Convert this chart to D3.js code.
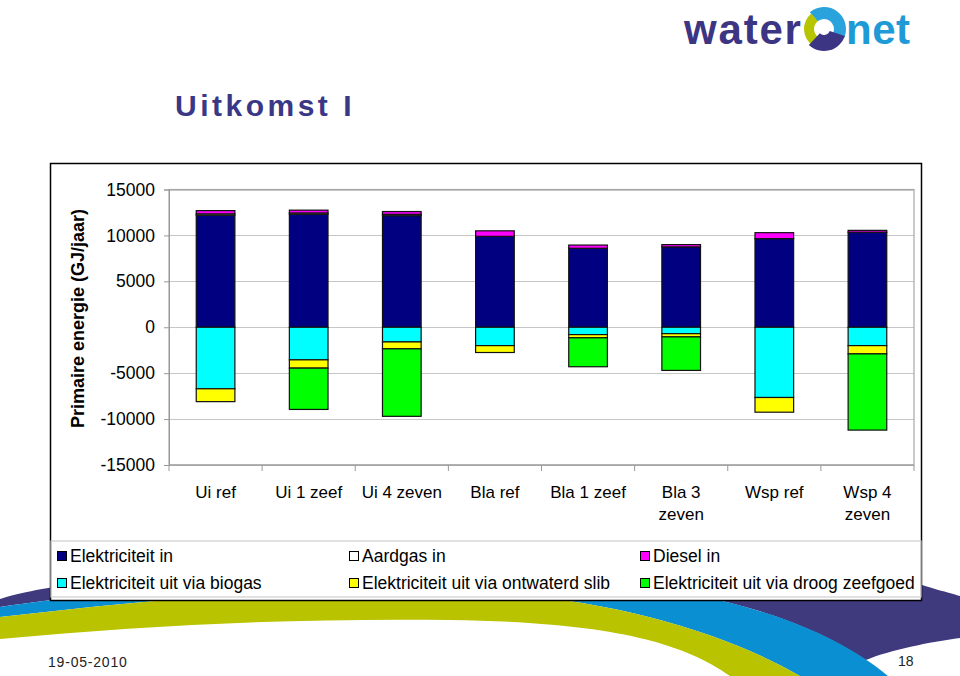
<!DOCTYPE html>
<html><head><meta charset="utf-8">
<script src="https://cdn.jsdelivr.net/npm/d3@7"></script>
<style>body{margin:0;background:#fff}svg{display:block}text{font-family:"Liberation Sans",Arial,sans-serif}</style>
</head><body><svg id="c" width="960" height="676"></svg>
<script>
// ---- data ----
const categories = ["Ui ref","Ui 1 zeef","Ui 4 zeven","Bla ref","Bla 1 zeef","Bla 3\nzeven","Wsp ref","Wsp 4\nzeven"];
const elektriciteitIn   = [12200, 12300, 12150, 9900, 8600, 8750, 9650, 10350];
const aardgasIn         = [150, 150, 150, 0, 0, 0, 0, 0];
const dieselIn          = [350, 300, 300, 600, 350, 250, 650, 200];
const elekUitBiogas     = [-6700, -3550, -1600, -2000, -800, -700, -7650, -2000];
const elekUitSlib       = [-1400, -900, -750, -750, -350, -350, -1600, -900];
const elekUitZeefgoed   = [0, -4500, -7350, 0, -3150, -3650, 0, -8300];
const seriesNames = ["Elektriciteit in","Aardgas in","Diesel in","Elektriciteit uit via biogas","Elektriciteit uit via ontwaterd slib","Elektriciteit uit via droog zeefgoed"];
const seriesColors = ["#000080","#ffffff","#ff00ff","#00ffff","#ffff00","#00ff00"];
const yTicks = [15000,10000,5000,0,-5000,-10000,-15000];

const seriesValues = [elektriciteitIn, aardgasIn, dieselIn, elekUitBiogas, elekUitSlib, elekUitZeefgoed];
const table = categories.map((c,i)=>{const r={cat:c}; seriesNames.forEach((s,k)=>r[s]=seriesValues[k][i]); return r;});

const svg = d3.select("#c");
svg.append("rect").attr("width",960).attr("height",676).attr("fill","#fff");

// ---- background swooshes ----
const deco = svg.append("g");
deco.append("path").attr("fill","#3f3a7e")
  .attr("d","M0,599 C40,585 200,560 500,560 L900,578 C930,588 950,593 960,596 L960,638 C930,642 890,650 866,660 C795.2,612.35 680,579.5 500,575 C300,572 100,592 0,607 Z");
deco.append("path").attr("fill","#0a8fd2")
  .attr("d","M0,607 C100,592 300,572 500,575 C700,580 820,620 888,676 L800,676 C720,630 600,595 450,590 C300,585 150,600 0,617 Z");
deco.append("path").attr("fill","#b9c300")
  .attr("d","M0,617 C150,600 300,585 450,590 C600,595 720,630 800,676 L730,676 C680,640 600,622 450,620 C300,618 150,625 0,639 Z");

// ---- logo ----
const logo = svg.append("g");
logo.append("text").attr("x",684).attr("y",44).attr("font-size",42).attr("font-weight","bold")
  .attr("fill","#3b3584").attr("letter-spacing",1.8).text("water");
logo.append("text").attr("x",846).attr("y",44).attr("font-size",42).attr("font-weight","bold")
  .attr("fill","#1e9bd7").attr("letter-spacing",0.5).text("net");
const arc = d3.arc();
const ic = logo.append("g").attr("transform","translate(824,29)");
ic.append("path").attr("fill","#2aa3dc").attr("d",arc({innerRadius:10,outerRadius:22,startAngle:-0.7,endAngle:2.0}));
ic.append("path").attr("fill","#b7c400").attr("d",arc({innerRadius:10,outerRadius:20,startAngle:3.7,endAngle:5.6}));
ic.append("path").attr("fill","#3b3584").attr("d",arc({innerRadius:6,outerRadius:22,startAngle:1.9,endAngle:3.9}));

// ---- title ----
svg.append("text").attr("x",175).attr("y",116).attr("font-size",30).attr("font-weight","bold")
  .attr("fill","#3a3786").attr("letter-spacing",3.5).text("Uitkomst I");

// ---- chart frame ----
svg.append("rect").attr("x",50.5).attr("y",163.5).attr("width",871).attr("height",437)
  .attr("fill","#fff").attr("stroke","#000").attr("stroke-width",1.5);

const L=169, R=914, T=189.5, B=465;
const x = d3.scaleBand().domain(categories).range([L,R]).paddingInner(0.585).paddingOuter(0.2925);
const y = d3.scaleLinear().domain([-15000,15000]).range([B,T]);

// gridlines
svg.append("g").selectAll("line").data(yTicks).join("line")
  .attr("x1",L).attr("x2",R).attr("y1",d=>Math.round(y(d))+0.5).attr("y2",d=>Math.round(y(d))+0.5)
  .attr("stroke","#c6c6c6").attr("stroke-width",1.2);
svg.append("rect").attr("x",L).attr("y",T).attr("width",R-L).attr("height",B-T)
  .attr("fill","none").attr("stroke","#a8a8a8").attr("stroke-width",1.2);

// y axis
const yAxis = svg.append("g").attr("transform",`translate(${L},0)`)
  .call(d3.axisLeft(y).tickValues(yTicks).tickSize(5).tickPadding(9).tickFormat(d=>String(d)));
yAxis.select(".domain").attr("stroke","#999");
yAxis.selectAll(".tick line").attr("stroke","#999");
yAxis.selectAll(".tick text").attr("font-size",17.5).attr("fill","#000").attr("font-family","Liberation Sans, Arial, sans-serif");

// x axis ticks (category boundaries)
const bounds = categories.map(c=>x(c)-(x.step()-x.bandwidth())/2).concat([R]);
svg.append("line").attr("x1",L).attr("x2",R).attr("y1",B).attr("y2",B).attr("stroke","#999");
svg.append("g").selectAll("line").data(bounds).join("line")
  .attr("x1",d=>d).attr("x2",d=>d).attr("y1",B).attr("y2",B+6).attr("stroke","#999");
const xl = svg.append("g").selectAll("text").data(categories).join("text")
  .attr("x",d=>x(d)+x.bandwidth()/2).attr("y",498).attr("text-anchor","middle").attr("font-size",17);
xl.each(function(d){
  const lines=d.split("\n"); const t=d3.select(this);
  lines.forEach((ln,i)=>t.append("tspan").attr("x",x(d)+x.bandwidth()/2).attr("dy",i?22:0).text(ln));
});

// y title
svg.append("text").attr("transform","translate(84,318.5) rotate(-90)").attr("text-anchor","middle")
  .attr("font-size",18).attr("font-weight","bold").text("Primaire energie (GJ/jaar)");

// bars
const stack = d3.stack().keys(seriesNames).offset(d3.stackOffsetDiverging);
const stacked = stack(table);
svg.append("g").selectAll("g").data(stacked).join("g")
  .attr("fill",(d,i)=>seriesColors[i])
  .selectAll("rect").data(d=>d.filter(p=>p[1]!==p[0])).join("rect")
  .attr("x",d=>x(d.data.cat)).attr("width",x.bandwidth())
  .attr("y",d=>y(Math.max(d[0],d[1]))).attr("height",d=>Math.abs(y(d[0])-y(d[1])))
  .attr("stroke","#111").attr("stroke-width",1.2);

// legend
svg.append("rect").attr("x",51).attr("y",541).attr("width",870).attr("height",56)
  .attr("fill","none").attr("stroke","#cfcfcf").attr("stroke-width",1.2);
const colX=[57,349,640], rowY=[556,583];
const lg = svg.append("g").selectAll("g").data(seriesNames).join("g")
  .attr("transform",(d,i)=>`translate(${colX[i%3]},${rowY[Math.floor(i/3)]})`);
lg.append("rect").attr("x",0.5).attr("y",-4.5).attr("width",9).attr("height",9)
  .attr("fill",(d,i)=>seriesColors[i]).attr("stroke","#000").attr("stroke-width",1);
lg.append("text").attr("x",13).attr("y",6).attr("font-size",17.5).text(d=>d);

// footer
svg.append("text").attr("x",48).attr("y",667).attr("font-size",14).attr("letter-spacing",0.8)
  .attr("fill","#222").text("19-05-2010");
svg.append("text").attr("x",898).attr("y",666).attr("font-size",14).attr("fill","#222").text("18");
</script></body></html>
